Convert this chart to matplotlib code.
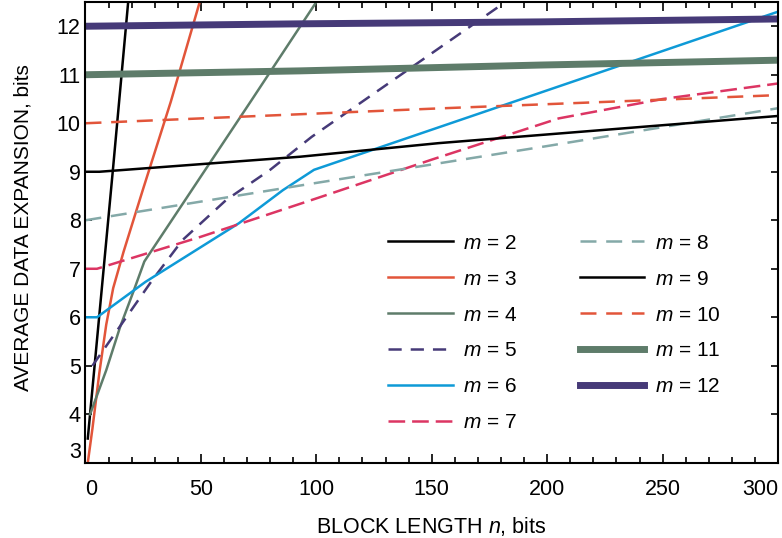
import matplotlib
matplotlib.use('Agg')
import matplotlib.pyplot as plt
from matplotlib.ticker import MultipleLocator

plt.rcParams['font.family'] = ['Liberation Sans', 'DejaVu Sans']
plt.rcParams['mathtext.fontset'] = 'custom'
plt.rcParams['mathtext.it'] = 'Liberation Sans:italic'
plt.rcParams['mathtext.rm'] = 'Liberation Sans'
plt.rcParams['lines.scale_dashes'] = False

# values: block length n -> average data expansion
n_m2 = [1, 12, 18.5]
e_m2 = [3.5, 9.1, 12.5]
n_m3 = [1, 3, 6, 9, 12, 16.5, 25, 37, 49.5]
e_m3 = [3.0, 3.7, 4.85, 5.85, 6.6, 7.35, 8.65, 10.45, 12.5]
n_m4 = [2, 9, 15, 21, 25.5, 72, 100]
e_m4 = [4.0, 4.91, 5.8, 6.56, 7.15, 10.48, 12.5]
n_m5 = [3, 29, 42, 61, 80, 98, 181]
e_m5 = [5.0, 6.77, 7.59, 8.42, 9.04, 9.72, 12.47]
n_m6 = [0, 5, 26, 66.5, 85.5, 99, 300]
e_m6 = [6.0, 6.0, 6.73, 7.94, 8.62, 9.04, 12.3]
n_m7 = [0, 5, 50, 100, 150, 205, 250, 300]
e_m7 = [7.0, 7.0, 7.66, 8.45, 9.25, 10.1, 10.5, 10.82]
n_m8 = [0, 100, 200, 300]
e_m8 = [8.0, 8.77, 9.53, 10.31]
n_m9 = [0, 6, 93, 153, 300]
e_m9 = [9.0, 9.0, 9.31, 9.59, 10.15]
n_m10 = [0, 150, 300]
e_m10 = [10.0, 10.3, 10.58]
n_m11 = [0, 93, 197, 300]
e_m11 = [11.0, 11.08, 11.2, 11.3]
n_m12 = [0, 93, 197, 300]
e_m12 = [12.0, 12.05, 12.09, 12.15]

black = '#000000'
orange = '#e2553a'
green = '#5e7c6a'
purple = '#463a78'
blue = '#0e9ad7'
crimson = '#dc3563'
teal = '#84a9a8'

fig = plt.figure(figsize=(7.82, 5.38), dpi=100)
ax = fig.add_axes([0.1093, 0.1398, 0.8856, 0.8565])

lw = 1.8
ax.plot(n_m2, e_m2, color=black, lw=lw, label='$m$ = 2')
ax.plot(n_m3, e_m3, color=orange, lw=lw, label='$m$ = 3')
ax.plot(n_m4, e_m4, color=green, lw=lw, label='$m$ = 4')
ax.plot(n_m5, e_m5, color=purple, lw=lw, dashes=(9.5, 6.5), label='$m$ = 5')
ax.plot(n_m6, e_m6, color=blue, lw=lw, label='$m$ = 6')
ax.plot(n_m7, e_m7, color=crimson, lw=lw, dashes=(12, 5), label='$m$ = 7')
ax.plot(n_m8, e_m8, color=teal, lw=lw, dashes=(11.5, 7), label='$m$ = 8')
ax.plot(n_m9, e_m9, color=black, lw=lw, label='$m$ = 9')
ax.plot(n_m10, e_m10, color=orange, lw=lw, dashes=(11.5, 7), label='$m$ = 10')
ax.plot(n_m11, e_m11, color=green, lw=5, label='$m$ = 11')
ax.plot(n_m12, e_m12, color=purple, lw=5, label='$m$ = 12')

ax.set_xlim(0, 300)
ax.set_ylim(3, 12.5)
ax.set_xticks(range(0, 301, 50))
ax.xaxis.set_minor_locator(MultipleLocator(10))
ax.set_yticks(range(3, 13))

for s in ax.spines.values():
    s.set_linewidth(1.5)
ax.tick_params(which='both', direction='in', top=True, right=True,
               width=1.2, labelsize=15.5)
ax.tick_params(axis='x', which='major', length=6.5, pad=12)
ax.tick_params(axis='x', which='minor', length=4)
ax.tick_params(axis='y', which='major', length=5, pad=3.5)

xl = ax.get_xticklabels()
xl[0].set_ha('left')
xl[-1].set_ha('right')
ax.get_yticklabels()[0].set_va('bottom')

ax.set_xlabel('BLOCK LENGTH $n$, bits', fontsize=15.5)
ax.set_ylabel('AVERAGE DATA EXPANSION, bits', fontsize=15)
ax.xaxis.set_label_coords(0.5, -0.113)
ax.yaxis.set_label_coords(-0.0758, 0.51)

ax.legend(ncol=2, frameon=False, loc='upper left',
          bbox_to_anchor=(0.437, 0.497), fontsize=15, handlelength=3.1,
          handletextpad=0.5, columnspacing=3.0, labelspacing=0.81,
          borderpad=0, borderaxespad=0)

fig.savefig('out.png', dpi=100)
